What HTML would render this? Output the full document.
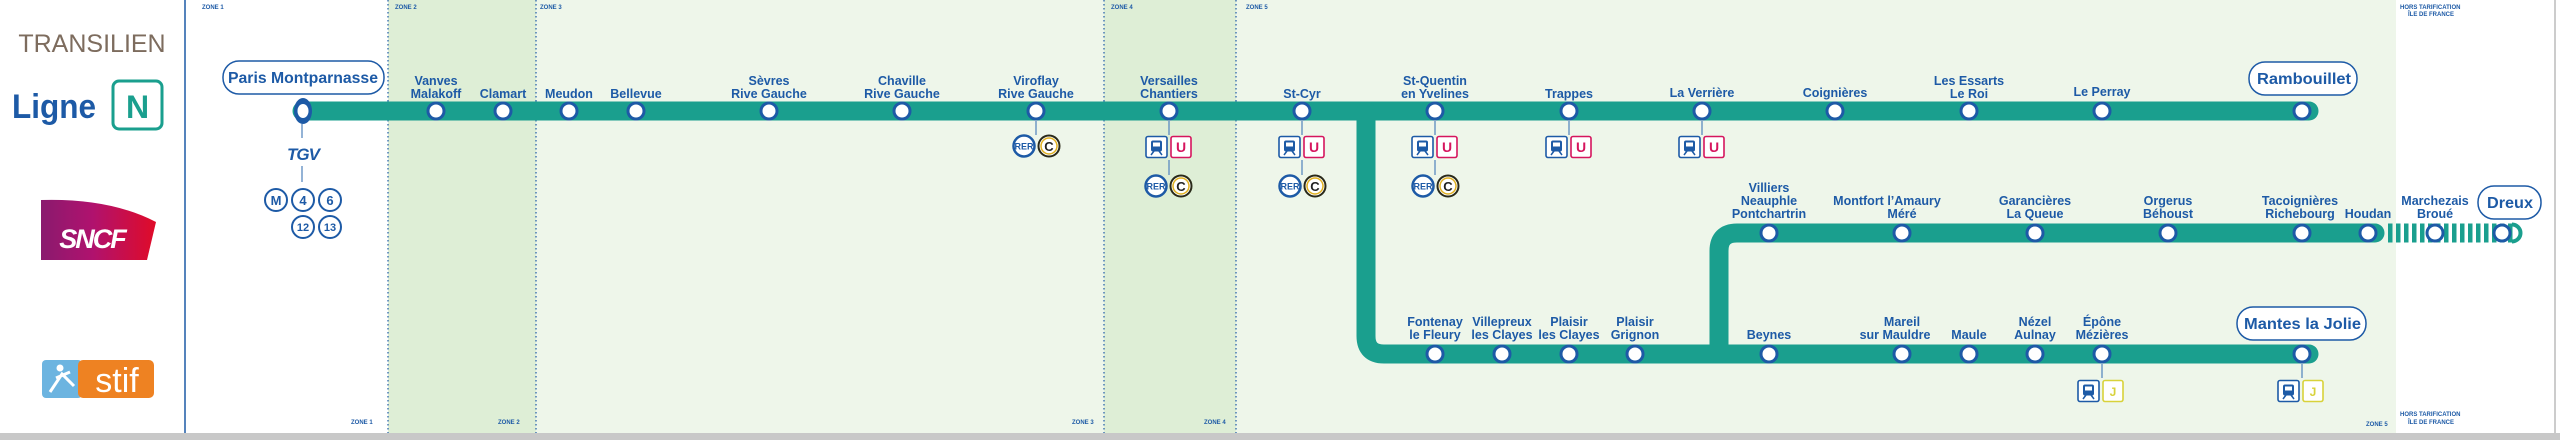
<!DOCTYPE html>
<html><head><meta charset="utf-8"><style>
html,body{margin:0;padding:0;background:#fff}
svg{display:block}
.l{font-family:"Liberation Sans",sans-serif;font-weight:bold;font-size:12.5px;fill:#1d5aa6;text-anchor:middle}
.z{font-family:"Liberation Sans",sans-serif;font-weight:bold;font-size:6px;fill:#1d5aa6}
.t{font-family:"Liberation Sans",sans-serif;font-weight:bold;fill:#1d5aa6;text-anchor:middle}
.b{font-family:"Liberation Sans",sans-serif;font-weight:bold;font-size:16px;fill:#1d5aa6}
</style></head><body>
<svg width="2560" height="440" viewBox="0 0 2560 440" xmlns="http://www.w3.org/2000/svg">
<defs>
<linearGradient id="sn" x1="0" x2="1" y1="0" y2="0"><stop offset="0" stop-color="#8a1a6e"/><stop offset="0.45" stop-color="#b0126e"/><stop offset="1" stop-color="#e00b28"/></linearGradient>
<g id="st"><circle r="8" fill="#fff" stroke="#1d5aa6" stroke-width="3"/></g>
<g id="tu"><rect x="-11" y="-10.5" width="21" height="21" rx="2" fill="#fff" stroke="#1d5aa6" stroke-width="1.6"/><rect x="-6" y="-6.5" width="11" height="11" rx="2" fill="#1d5aa6"/><rect x="-4" y="-4.5" width="7" height="4" fill="#fff"/><path d="M-6,8 L-3,4 M5,8 L2,4" stroke="#1d5aa6" stroke-width="1.5"/>
<rect x="14" y="-10.5" width="20" height="21" rx="2" fill="#fff" stroke="#d6155e" stroke-width="1.6"/><text x="24" y="5" class="t" style="font-size:14px;fill:#d6155e">U</text></g>
<g id="tj"><rect x="-11" y="-10.5" width="21" height="21" rx="2" fill="#fff" stroke="#1d5aa6" stroke-width="1.6"/><rect x="-6" y="-6.5" width="11" height="11" rx="2" fill="#1d5aa6"/><rect x="-4" y="-4.5" width="7" height="4" fill="#fff"/><path d="M-6,8 L-3,4 M5,8 L2,4" stroke="#1d5aa6" stroke-width="1.5"/>
<rect x="14" y="-10.5" width="20" height="21" rx="2" fill="#fff" stroke="#d8d23a" stroke-width="1.6"/><text x="24" y="5" class="t" style="font-size:12px;fill:#d8d23a">J</text></g>
<g id="rc"><circle r="10.5" fill="#fff" stroke="#1d5aa6" stroke-width="2.5"/><text y="3.5" class="t" style="font-size:9px">RER</text>
<circle cx="25" r="10.5" fill="#fff" stroke="#2a2a1a" stroke-width="2"/><circle cx="25" r="8" fill="none" stroke="#e0b020" stroke-width="1.5"/><text x="25" y="5" class="t" style="font-size:13px;fill:#222">C</text></g>
</defs>
<rect x="0" y="0" width="2560" height="433" fill="#fff"/>
<rect x="388" y="0" width="148" height="433" fill="#deeed6"/>
<rect x="536" y="0" width="568" height="433" fill="#eef6ea"/>
<rect x="1104" y="0" width="132" height="433" fill="#deeed6"/>
<rect x="1236" y="0" width="1160" height="433" fill="#eef6ea"/>
<rect x="0" y="433" width="2560" height="7" fill="#c8c8c8"/>
<line x1="185" y1="0" x2="185" y2="433" stroke="#1d5aa6" stroke-width="1.5"/>
<line x1="2555" y1="0" x2="2555" y2="433" stroke="#999" stroke-width="1"/>
<g stroke="#1d5aa6" stroke-width="1.2" stroke-dasharray="1.5 2.5">
<line x1="388" y1="0" x2="388" y2="433"/><line x1="536" y1="0" x2="536" y2="433"/><line x1="1104" y1="0" x2="1104" y2="433"/><line x1="1236" y1="0" x2="1236" y2="433"/></g>
<g class="z"><text x="202" y="9">ZONE 1</text><text x="395" y="9">ZONE 2</text><text x="540" y="9">ZONE 3</text><text x="1111" y="9">ZONE 4</text><text x="1246" y="9">ZONE 5</text>
<text x="2400" y="9">HORS TARIFICATION</text><text x="2408" y="16">ÎLE DE FRANCE</text>
<text x="351" y="424">ZONE 1</text><text x="498" y="424">ZONE 2</text><text x="1072" y="424">ZONE 3</text><text x="1204" y="424">ZONE 4</text><text x="2366" y="426">ZONE 5</text>
<text x="2400" y="416">HORS TARIFICATION</text><text x="2408" y="424">ÎLE DE FRANCE</text></g>
<text x="92" y="52" style="font-family:'Liberation Sans',sans-serif;font-size:25px;fill:#7d6c5e;text-anchor:middle">TRANSILIEN</text>
<text x="12" y="118" textLength="84" lengthAdjust="spacingAndGlyphs" style="font-family:'Liberation Sans',sans-serif;font-weight:bold;font-size:34px;fill:#1d5aa6">Ligne</text>
<rect x="113" y="81" width="49" height="48" rx="6" fill="#fff" stroke="#1a9f8e" stroke-width="3"/>
<text x="137.5" y="118" style="font-family:'Liberation Sans',sans-serif;font-weight:bold;font-size:32px;fill:#1a9f8e;text-anchor:middle">N</text>
<path d="M41,200 Q110,198 156,222 L147,260 L41,260 Z" fill="url(#sn)"/>
<text x="92" y="248" style="font-family:'Liberation Sans',sans-serif;font-weight:bold;font-style:italic;font-size:27px;fill:#fff;text-anchor:middle;letter-spacing:-2px">SNCF</text>
<rect x="42" y="360" width="40" height="38" rx="4" fill="#6cb4e0"/>
<rect x="78" y="360" width="76" height="38" rx="5" fill="#ee8222"/>
<circle cx="60" cy="368" r="3.5" fill="#fff"/><path d="M50,392 L62,374 L74,386 M56,378 L70,372" stroke="#fff" stroke-width="3" fill="none"/>
<text x="117" y="392" style="font-family:'Liberation Sans',sans-serif;font-size:34px;fill:#fff;text-anchor:middle">stif</text>
<g fill="none" stroke="#1a9f8e" stroke-width="19">
<path d="M302,111 H2309" stroke-linecap="round"/>
<path d="M1366,111 V336 Q1366,354 1384,354 H2309" stroke-linecap="round"/>
<path d="M1719,354 V251 Q1719,233 1737,233 H2375" stroke-linecap="round"/>
</g>
<g fill="#1a9f8e">
<rect x="2388" y="223.5" width="4.5" height="19"/><rect x="2396" y="223.5" width="4.5" height="19"/><rect x="2404" y="223.5" width="4.5" height="19"/><rect x="2412" y="223.5" width="4.5" height="19"/><rect x="2420" y="223.5" width="4.5" height="19"/><rect x="2428" y="223.5" width="4.5" height="19"/><rect x="2436" y="223.5" width="4.5" height="19"/><rect x="2444" y="223.5" width="4.5" height="19"/><rect x="2452" y="223.5" width="4.5" height="19"/><rect x="2460" y="223.5" width="4.5" height="19"/><rect x="2468" y="223.5" width="4.5" height="19"/><rect x="2476" y="223.5" width="4.5" height="19"/><rect x="2484" y="223.5" width="4.5" height="19"/><rect x="2492" y="223.5" width="4.5" height="19"/><rect x="2500" y="223.5" width="4.5" height="19"/><rect x="2508" y="223.5" width="4.5" height="19"/></g>
<path d="M2512,224.5 A8.5,8.5 0 0 1 2512,241.5" fill="none" stroke="#1a9f8e" stroke-width="4"/>
<g stroke="#5a8ac0" stroke-width="1.3">
<line x1="302" y1="124" x2="302" y2="138"/><line x1="302" y1="166" x2="302" y2="182"/>
<line x1="1036" y1="121" x2="1036" y2="135"/>
<line x1="1169" y1="121" x2="1169" y2="135"/><line x1="1169" y1="160" x2="1169" y2="175"/>
<line x1="1302" y1="121" x2="1302" y2="135"/><line x1="1302" y1="160" x2="1302" y2="175"/>
<line x1="1435" y1="121" x2="1435" y2="135"/><line x1="1435" y1="160" x2="1435" y2="175"/>
<line x1="1569" y1="121" x2="1569" y2="135"/><line x1="1702" y1="121" x2="1702" y2="135"/>
<line x1="2102" y1="364" x2="2102" y2="378"/><line x1="2302" y1="364" x2="2302" y2="378"/>
</g>
<ellipse cx="303" cy="111" rx="9" ry="13" fill="#1d5aa6"/><ellipse cx="303" cy="111" rx="5.5" ry="7" fill="#fff"/>
<rect x="223" y="61" width="161" height="33" rx="16" fill="#fff" stroke="#1d5aa6" stroke-width="1.5"/>
<text x="228" y="83" textLength="150" lengthAdjust="spacingAndGlyphs" class="b">Paris Montparnasse</text>
<text x="303" y="160" class="t" style="font-size:17px;font-style:italic;letter-spacing:-1px">TGV</text>
<g fill="#fff" stroke="#1d5aa6" stroke-width="2"><circle cx="276" cy="200" r="11"/><circle cx="303" cy="200" r="11"/><circle cx="330" cy="200" r="11"/><circle cx="303" cy="227" r="11"/><circle cx="330" cy="227" r="11"/></g>
<g class="t" style="font-size:13px"><text x="276" y="205">M</text><text x="303" y="205">4</text><text x="330" y="205">6</text><text x="303" y="231" style="font-size:11px">12</text><text x="330" y="231" style="font-size:11px">13</text></g>
<rect x="2249" y="62" width="108" height="33" rx="16" fill="#fff" stroke="#1d5aa6" stroke-width="1.5"/><text x="2257" y="84" textLength="94" lengthAdjust="spacingAndGlyphs" class="b">Rambouillet</text>
<rect x="2237" y="307" width="129" height="33" rx="16" fill="#fff" stroke="#1d5aa6" stroke-width="1.5"/><text x="2244" y="329" textLength="117" lengthAdjust="spacingAndGlyphs" class="b">Mantes la Jolie</text>
<rect x="2478" y="186" width="63" height="33" rx="16" fill="#fff" stroke="#1d5aa6" stroke-width="1.5"/><text x="2487" y="208" textLength="46" lengthAdjust="spacingAndGlyphs" class="b">Dreux</text>
<g>
<use href="#st" x="436" y="111"/><use href="#st" x="503" y="111"/><use href="#st" x="569" y="111"/><use href="#st" x="636" y="111"/><use href="#st" x="769" y="111"/><use href="#st" x="902" y="111"/><use href="#st" x="1036" y="111"/><use href="#st" x="1169" y="111"/><use href="#st" x="1302" y="111"/><use href="#st" x="1435" y="111"/><use href="#st" x="1569" y="111"/><use href="#st" x="1702" y="111"/><use href="#st" x="1835" y="111"/><use href="#st" x="1969" y="111"/><use href="#st" x="2102" y="111"/><use href="#st" x="2302" y="111"/>
<use href="#st" x="1769" y="233"/><use href="#st" x="1902" y="233"/><use href="#st" x="2035" y="233"/><use href="#st" x="2168" y="233"/><use href="#st" x="2302" y="233"/><use href="#st" x="2368" y="233"/><use href="#st" x="2435" y="233"/><use href="#st" x="2502" y="233"/>
<use href="#st" x="1435" y="354"/><use href="#st" x="1502" y="354"/><use href="#st" x="1569" y="354"/><use href="#st" x="1635" y="354"/><use href="#st" x="1769" y="354"/><use href="#st" x="1902" y="354"/><use href="#st" x="1969" y="354"/><use href="#st" x="2035" y="354"/><use href="#st" x="2102" y="354"/><use href="#st" x="2302" y="354"/>
</g>
<use href="#rc" x="1024" y="146"/>
<use href="#tu" x="1157" y="147"/><use href="#rc" x="1156" y="186"/>
<use href="#tu" x="1290" y="147"/><use href="#rc" x="1290" y="186"/>
<use href="#tu" x="1423" y="147"/><use href="#rc" x="1423" y="186"/>
<use href="#tu" x="1557" y="147"/><use href="#tu" x="1690" y="147"/>
<use href="#tj" x="2089" y="391"/><use href="#tj" x="2289" y="391"/>
<g class="l">
<text x="436" y="85">Vanves</text><text x="436" y="98">Malakoff</text>
<text x="503" y="98">Clamart</text><text x="569" y="98">Meudon</text><text x="636" y="98">Bellevue</text>
<text x="769" y="85">Sèvres</text><text x="769" y="98">Rive Gauche</text>
<text x="902" y="85">Chaville</text><text x="902" y="98">Rive Gauche</text>
<text x="1036" y="85">Viroflay</text><text x="1036" y="98">Rive Gauche</text>
<text x="1169" y="85">Versailles</text><text x="1169" y="98">Chantiers</text>
<text x="1302" y="98">St-Cyr</text>
<text x="1435" y="85">St-Quentin</text><text x="1435" y="98">en Yvelines</text>
<text x="1569" y="98">Trappes</text><text x="1702" y="97">La Verrière</text><text x="1835" y="97">Coignières</text>
<text x="1969" y="85">Les Essarts</text><text x="1969" y="98">Le Roi</text>
<text x="2102" y="96">Le Perray</text>
<text x="1769" y="192">Villiers</text><text x="1769" y="205">Neauphle</text><text x="1769" y="218">Pontchartrin</text>
<text x="1887" y="205">Montfort l’Amaury</text><text x="1902" y="218">Méré</text>
<text x="2035" y="205">Garancières</text><text x="2035" y="218">La Queue</text>
<text x="2168" y="205">Orgerus</text><text x="2168" y="218">Béhoust</text>
<text x="2300" y="205">Tacoignières</text><text x="2300" y="218">Richebourg</text>
<text x="2368" y="218">Houdan</text>
<text x="2435" y="205">Marchezais</text><text x="2435" y="218">Broué</text>
<text x="1435" y="326">Fontenay</text><text x="1435" y="339">le Fleury</text>
<text x="1502" y="326">Villepreux</text><text x="1502" y="339">les Clayes</text>
<text x="1569" y="326">Plaisir</text><text x="1569" y="339">les Clayes</text>
<text x="1635" y="326">Plaisir</text><text x="1635" y="339">Grignon</text>
<text x="1769" y="339">Beynes</text>
<text x="1902" y="326">Mareil</text><text x="1895" y="339">sur Mauldre</text>
<text x="1969" y="339">Maule</text>
<text x="2035" y="326">Nézel</text><text x="2035" y="339">Aulnay</text>
<text x="2102" y="326">Épône</text><text x="2102" y="339">Mézières</text>
</g>
</svg>
</body></html>
